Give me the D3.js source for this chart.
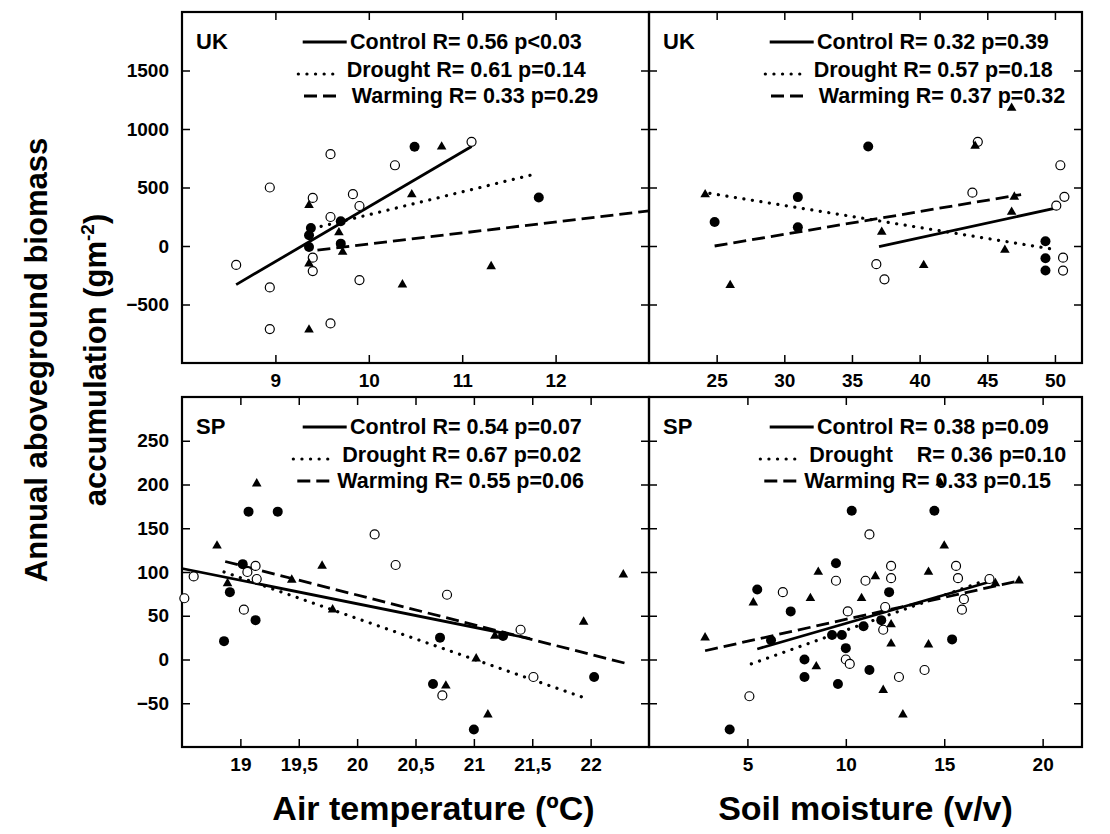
<!DOCTYPE html>
<html><head><meta charset="utf-8">
<script src="https://cdn.jsdelivr.net/npm/d3@7"></script>
<style>
body{margin:0;background:#fff}
svg{display:block;background:#fff}
text{font-family:"Liberation Sans",Arial,sans-serif;font-weight:bold;fill:#000}
</style>
</head><body><svg id="c" width="1110" height="834"></svg>
<script>
// ---------------- DATA ----------------
// UK, air temperature
const ukAirControl = [[8.94,500],[9.59,785],[10.28,690],[11.1,890],[9.40,411],[9.83,443],[9.90,342],[9.59,248],[9.40,-100],[9.40,-214],[8.58,-162],[8.94,-354],[9.90,-291],[9.59,-662],[8.94,-710]];
const ukAirDrought = [[10.49,848],[9.38,154],[9.36,92],[9.70,211],[9.36,-9],[9.70,20],[11.82,414]];
const ukAirWarming = [[10.78,848],[9.36,348],[10.46,440],[9.68,115],[9.72,-51],[9.36,-151],[10.36,-330],[9.36,-716],[11.31,-174]];
const ukAirFitControl = [[8.58,-330],[11.1,850]];
const ukAirFitDrought = [[9.4,150],[11.78,615]];
const ukAirFitWarming = [[9.45,-35],[13,300]];
const ukAirStats = ["R= 0.56 p<0.03","R= 0.61 p=0.14","R= 0.33 p=0.29"];
const ukAirTicks = [9,10,11,12];
const ukAirTickLabels = ["9","10","11","12"];

// UK, soil moisture
const ukSoilControl = [[36.8,-155],[37.4,-285],[43.9,456],[44.3,890],[50.4,690],[50.7,420],[50.1,345],[50.6,-100],[50.6,-210]];
const ukSoilDrought = [[24.85,205],[31.0,418],[31.0,160],[36.2,850],[49.3,40],[49.3,-105],[49.3,-210]];
const ukSoilWarming = [[24.15,440],[26.0,-336],[37.2,120],[40.3,-165],[44.1,855],[46.8,1180],[47.0,420],[46.8,290],[46.3,-35]];
const ukSoilFitControl = [[37,-5],[50.3,330]];
const ukSoilFitDrought = [[24.5,450],[50,-30]];
const ukSoilFitWarming = [[24.85,0],[47.5,440]];
const ukSoilStats = ["R= 0.32 p=0.39","R= 0.57 p=0.18","R= 0.37 p=0.32"];
const ukSoilTicks = [25,30,35,40,45,50];
const ukSoilTickLabels = ["25","30","35","40","45","50"];

const ukYTicks = [-500,0,500,1000,1500];

// SP, air temperature
const spAirControl = [[20.15,143],[18.6,95],[18.52,70],[19.13,107],[19.06,100],[19.14,92],[19.03,57],[20.33,108],[20.77,74],[20.73,-41],[21.40,34],[21.51,-20]];
const spAirDrought = [[19.07,169],[19.32,169],[19.02,109],[18.91,77],[19.13,45],[18.86,21],[20.71,25],[20.65,-28],[21.25,27],[22.03,-20],[21.0,-80]];
const spAirWarming = [[19.14,201],[18.80,130],[18.89,87],[19.70,107],[19.44,91],[19.79,57],[20.76,-30],[22.28,97],[21.94,43],[21.18,27],[21.02,1],[21.12,-63]];
const spAirFitControl = [[18.5,104],[21.48,24]];
const spAirFitDrought = [[18.86,100],[21.95,-44]];
const spAirFitWarming = [[18.87,112],[22.29,-4]];
const spAirStats = ["R= 0.54 p=0.07","R= 0.67 p=0.02","R= 0.55 p=0.06"];
const spAirTicks = [19,19.5,20,20.5,21,21.5,22];
const spAirTickLabels = ["19","19,5","20","20,5","21","21,5","22"];

// SP, soil moisture
const spSoilControl = [[5.1,-42],[6.8,77],[9.5,90],[10,0],[10.1,55],[10.2,-5],[11.2,143],[11.0,90],[11.9,34],[12.3,107],[12.3,93],[12.0,60],[12.7,-20],[14,-12],[15.6,107],[15.7,93],[16,69],[15.9,57],[17.3,92]];
const spSoilDrought = [[4.1,-80],[5.5,80],[6.2,22],[7.2,55],[7.9,0],[7.9,-20],[9.5,110],[9.3,28],[9.8,28],[9.6,-28],[10,13],[10.3,170],[10.9,38],[11.2,-12],[11.8,45],[12.2,77],[14.5,170],[15.4,23]];
const spSoilWarming = [[2.85,25],[5.3,65],[8.2,70],[8.6,100],[8.5,-8],[10.8,70],[11.5,95],[11.9,-35],[12.3,40],[12.3,18],[12.9,-63],[14.2,17],[14.2,100],[15,130],[17.6,87],[18.8,90],[14.8,202]];
const spSoilFitControl = [[5.5,12],[17.5,90]];
const spSoilFitDrought = [[5.2,-5],[17.3,92]];
const spSoilFitWarming = [[2.85,10],[18.8,90]];
const spSoilStats = ["R= 0.38 p=0.09","R= 0.36 p=0.10","R= 0.33 p=0.15"];
const spSoilTicks = [5,10,15,20];
const spSoilTickLabels = ["5","10","15","20"];

const spYTicks = [-50,0,50,100,150,200,250];

const treatmentNames = ["Control","Drought","Warming"];
const drySpacer = ["","   ",""];

// ---------------- LAYOUT ----------------
const svg = d3.select("#c");
const L = 182, M = 649, R = 1082;
const T1 = 12, B1 = 363, T2 = 397, B2 = 747;

const panels = [
  {x0:L, x1:M, y0:T1, y1:B1, xd:[8,13], yd:[-1000,2000], xt:ukAirTicks, xl:ukAirTickLabels, yt:ukYTicks, yLabels:true, region:"UK",
   pts:[ukAirControl,ukAirDrought,ukAirWarming], fits:[ukAirFitControl,ukAirFitDrought,ukAirFitWarming], stats:ukAirStats, sp:["","",""],
   leg:[[120.7,164.7,168],[116.3,158,164.7],[122,154,169.7]]},
  {x0:M, x1:R, y0:T1, y1:B1, xd:[20,52], yd:[-1000,2000], xt:ukSoilTicks, xl:ukSoilTickLabels, yt:ukYTicks, yLabels:false, region:"UK",
   pts:[ukSoilControl,ukSoilDrought,ukSoilWarming], fits:[ukSoilFitControl,ukSoilFitDrought,ukSoilFitWarming], stats:ukSoilStats, sp:["","",""],
   leg:[[120.7,164.7,168],[116.3,158,164.7],[122,154,169.7]]},
  {x0:L, x1:M, y0:T2, y1:B2, xd:[18.5,22.5], yd:[-100,300], xt:spAirTicks, xl:spAirTickLabels, yt:spYTicks, yLabels:true, region:"SP",
   pts:[spAirControl,spAirDrought,spAirWarming], fits:[spAirFitControl,spAirFitDrought,spAirFitWarming], stats:spAirStats, sp:["","",""],
   leg:[[120.7,164.7,168],[111.3,153,160.3],[115.3,149.7,155.3]]},
  {x0:M, x1:R, y0:T2, y1:B2, xd:[0,22], yd:[-100,300], xt:spSoilTicks, xl:spSoilTickLabels, yt:spYTicks, yLabels:false, region:"SP",
   pts:[spSoilControl,spSoilDrought,spSoilWarming], fits:[spSoilFitControl,spSoilFitDrought,spSoilFitWarming], stats:spSoilStats, sp:drySpacer,
   leg:[[120.7,164.7,168],[111.3,153,160.3],[115.3,149.7,155.3]]}
];

const dashes = [null, "0.1,8.5", "13,6"];

panels.forEach(p => {
  const x = d3.scaleLinear().domain(p.xd).range([p.x0, p.x1]);
  const y = d3.scaleLinear().domain(p.yd).range([p.y1, p.y0]);
  const g = svg.append("g");

  const bottom = g.append("g").attr("transform",`translate(0,${p.y1})`)
    .call(d3.axisBottom(x).tickValues(p.xt).tickSize(-8).tickPadding(11).tickFormat((d,i)=>p.xl[i]));
  const top = g.append("g").attr("transform",`translate(0,${p.y0})`)
    .call(d3.axisTop(x).tickValues(p.xt).tickSize(-8).tickFormat(""));
  const left = g.append("g").attr("transform",`translate(${p.x0},0)`)
    .call(d3.axisLeft(y).tickValues(p.yt).tickSize(-8).tickPadding(13).tickFormat(p.yLabels ? d3.format("d") : ""));
  const right = g.append("g").attr("transform",`translate(${p.x1},0)`)
    .call(d3.axisRight(y).tickValues(p.yt).tickSize(-8).tickFormat(""));
  [bottom,top,left,right].forEach(a=>{
    a.select(".domain").remove();
    a.selectAll("line").attr("stroke","#000").attr("stroke-width",1.5);
    a.selectAll("text").style("font-size","19px").style("font-weight","bold").attr("fill","#000");
  });

  g.append("rect").attr("x",p.x0).attr("y",p.y0).attr("width",p.x1-p.x0).attr("height",p.y1-p.y0)
    .attr("fill","none").attr("stroke","#000").attr("stroke-width",2.2);

  const line = d3.line().x(d=>x(d[0])).y(d=>y(d[1]));
  p.fits.forEach((f,i)=>{
    const path = g.append("path").attr("d",line(f)).attr("fill","none").attr("stroke","#000").attr("stroke-width",2.8);
    if (i===1) path.attr("stroke-dasharray",dashes[1]).attr("stroke-linecap","round").attr("stroke-width",3.2);
    if (i===2) path.attr("stroke-dasharray",dashes[2]);
  });

  g.selectAll("circle.o").data(p.pts[0]).join("circle").attr("class","o")
    .attr("cx",d=>x(d[0])).attr("cy",d=>y(d[1])).attr("r",4.5)
    .attr("fill","#fff").attr("stroke","#000").attr("stroke-width",1.2);
  g.selectAll("circle.f").data(p.pts[1]).join("circle").attr("class","f")
    .attr("cx",d=>x(d[0])).attr("cy",d=>y(d[1])).attr("r",5)
    .attr("fill","#000");
  const tri = d3.symbol(d3.symbolTriangle).size(40);
  g.selectAll("path.t").data(p.pts[2]).join("path").attr("class","t")
    .attr("d",tri).attr("transform",d=>`translate(${x(d[0])},${y(d[1])})`).attr("fill","#000");

  g.append("text").attr("x",p.x0+14).attr("y",p.y0+37).style("font-size","22px").text(p.region);

  const rowY = [p.y0+37, p.y0+65, p.y0+91];
  treatmentNames.forEach((n,i)=>{
    const [a,b,t] = p.leg[i];
    const ly = i===1 ? rowY[i]-3 : rowY[i]-7;
    const ln = g.append("line").attr("x1",p.x0+a).attr("x2",p.x0+b).attr("y1",ly).attr("y2",ly)
      .attr("stroke","#000").attr("stroke-width",i===1?3.2:2.8);
    if (i===1) ln.attr("stroke-dasharray",dashes[1]).attr("stroke-linecap","round");
    if (i===2) ln.attr("stroke-dasharray","13,6");
    g.append("text").attr("x",p.x0+t).attr("y",rowY[i]).style("font-size","21.5px")
      .attr("xml:space","preserve").style("white-space","pre")
      .text(n + p.sp[i] + " " + p.stats[i]);
  });
});

svg.append("text").attr("x",(L+M)/2+18).attr("y",820).attr("text-anchor","middle").style("font-size","34px").text("Air temperature (ºC)");
svg.append("text").attr("x",(M+R)/2).attr("y",820).attr("text-anchor","middle").style("font-size","34px").text("Soil moisture (v/v)");
svg.append("text").attr("transform","translate(47,360) rotate(-90)").attr("text-anchor","middle").style("font-size","31px").text("Annual aboveground biomass");
const t2 = svg.append("text").attr("transform","translate(106,360) rotate(-90)").attr("text-anchor","middle").style("font-size","31px");
t2.append("tspan").text("accumulation (gm");
t2.append("tspan").attr("dy",-12).style("font-size","19px").text("-2");
t2.append("tspan").attr("dy",12).text(")");
</script></body></html>
